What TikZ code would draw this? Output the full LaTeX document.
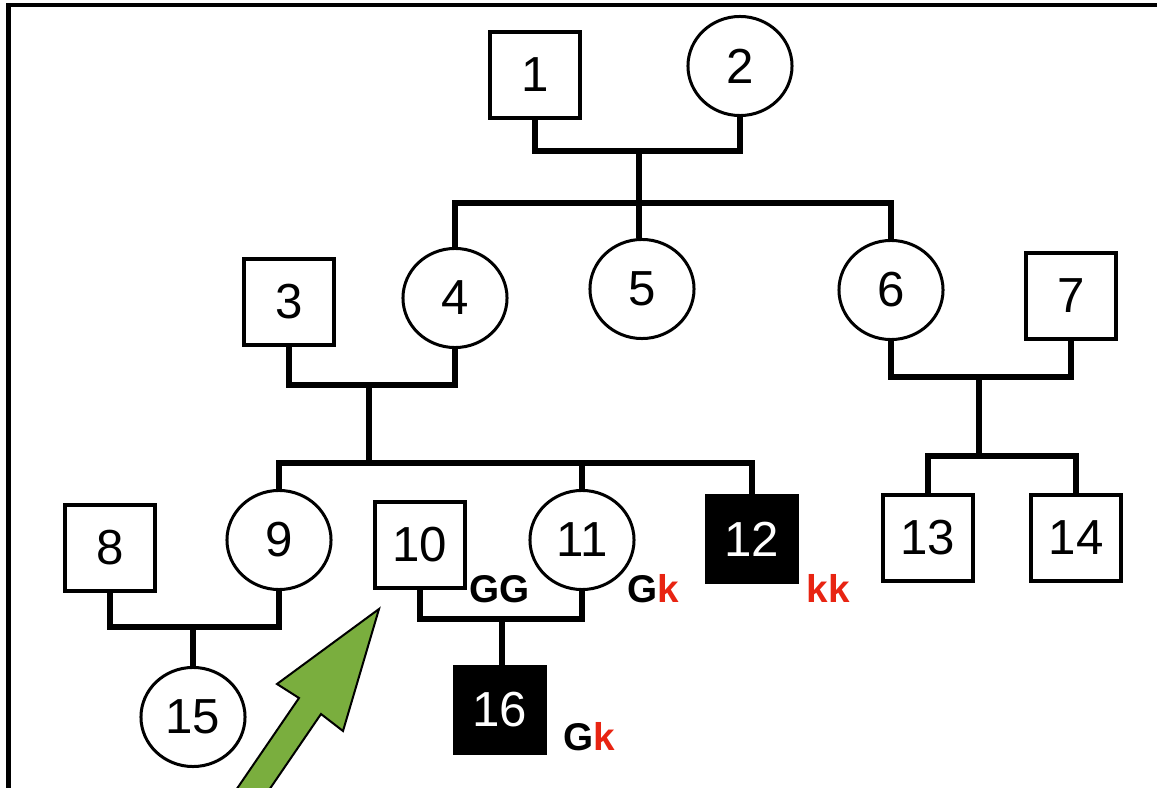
\documentclass[tikz,border=0pt]{standalone}
\usepackage{fontspec}
\setmainfont{Liberation Sans}
\usetikzlibrary{shapes.geometric}
\definecolor{arrowgreen}{RGB}{122,174,62}
\definecolor{allelered}{RGB}{232,36,18}

\begin{document}
\begin{tikzpicture}[
    x=0.01cm, y=-0.01cm,
    male node/.style={rectangle, draw=black, line width=0.04cm, fill=white, inner sep=0pt, minimum width=0.9cm, minimum height=0.85cm, font=\fontsize{14}{16}\selectfont},
    aff node/.style={male node, fill=black, text=white},
    female node/.style={ellipse, draw=black, line width=0.03cm, fill=white, inner sep=0pt, minimum width=1.04cm, minimum height=0.99cm, font=\fontsize{14}{16}\selectfont},
    main edge/.style={line width=0.065cm, draw=black},
    geno/.style={anchor=base west, inner sep=0pt, font=\bfseries\fontsize{11}{12}\selectfont}
]
\useasboundingbox (0,0) rectangle (1157,788);
\clip (0,0) rectangle (1157,788);

% outer frame (runs off the right and bottom edge)
\draw[line width=0.04cm] (8.5,5) rectangle (1200,830);

% generation I
\node[male node]   (P1)  at (535, 75) {1};
\node[female node] (P2)  at (740, 66) {2};

% generation II
\node[male node]   (P3)  at (289,302) {3};
\node[female node] (P4)  at (455,298) {4};
\node[female node] (P5)  at (642,289) {5};
\node[female node] (P6)  at (891,290) {6};
\node[male node]   (P7)  at (1071,296) {7};

% generation III
\node[male node]   (P8)  at (110,548) {8};
\node[female node] (P9)  at (279,540) {9};
\node[male node]   (P10) at (420,545) {10};
\node[female node] (P11) at (582,540) {11};
\node[aff node]    (P12) at (752,539) {12};
\node[male node]   (P13) at (928,538) {13};
\node[male node]   (P14) at (1076,538) {14};

% generation IV
\node[female node] (P15) at (193,717) {15};
\node[aff node]    (P16) at (500,710) {16};

% mating and sibship points
\coordinate (M12) at (639,151);
\coordinate (S12) at (639,203);
\coordinate (M34) at (369,385);
\coordinate (S34) at (369,463);
\coordinate (M67) at (979,377);
\coordinate (S67) at (979,456);
\coordinate (M89) at (193,627);
\coordinate (M1011) at (502,619);

% 1 x 2 -> 4, 5, 6
\draw[main edge] (P1.south) |- (M12) -| (P2.south);
\draw[main edge] (M12) -- (S12);
\draw[main edge] (P4.north) |- (S12) -| (P6.north);
\draw[main edge] (S12) -- (S12 |- P5.north);

% 3 x 4 -> 9, 11, 12
\draw[main edge] (P3.south) |- (M34) -| (P4.south);
\draw[main edge] (M34) -- (S34);
\draw[main edge] (P9.north) |- (S34) -| (P12.north);
\draw[main edge] (S34 -| P11.north) -- (P11.north);

% 6 x 7 -> 13, 14
\draw[main edge] (P6.south) |- (M67) -| (P7.south);
\draw[main edge] (M67) -- (S67);
\draw[main edge] (P13.north) |- (S67) -| (P14.north);

% 8 x 9 -> 15
\draw[main edge] (P8.south) |- (M89) -| (P9.south);
\draw[main edge] (M89) -- (P15.north);

% 10 x 11 -> 16
\draw[main edge] (P10.south) |- (M1011) -| (P11.south);
\draw[main edge] (M1011) -- (M1011 |- P16.north);

% genotypes
\node[geno] (G10) at (469,602) {GG};
\node[geno] (G11) at (627,602) {G\textcolor{allelered}{k}};
\node[geno] (G12) at (806,602) {\textcolor{allelered}{kk}};
\node[geno] (G16) at (563,750) {G\textcolor{allelered}{k}};

% green pointer towards 10
\draw[fill=arrowgreen, line width=0.02cm, line join=miter]
    (379,609) -- (343,731) -- (321,714) -- (228,850) -- (195,850) -- (299,698) -- (277,684) -- cycle;

\end{tikzpicture}
\end{document}
